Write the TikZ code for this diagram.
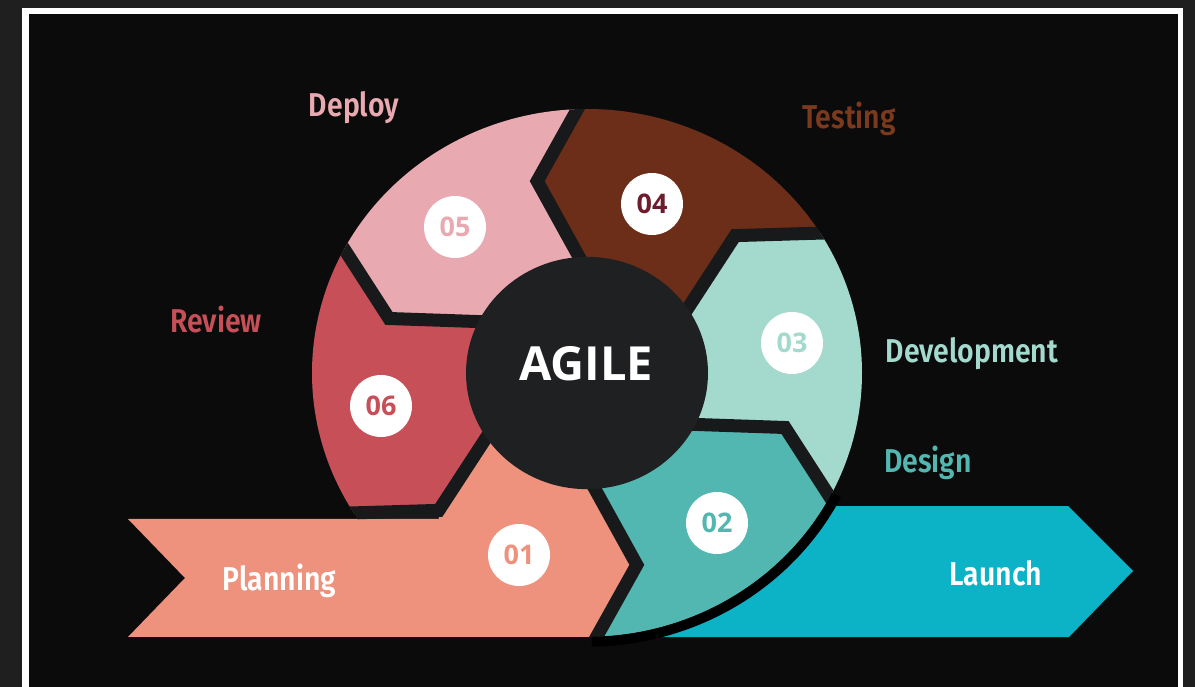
\documentclass[tikz,border=0pt]{standalone}
\usepackage{fontspec}
\setmainfont{Fira Sans}[FakeStretch=0.86,UprightFont=* SemiBold,BoldFont=* Bold]
\newfontfamily\hubfont{Open Sans}
\usetikzlibrary{calc}

\definecolor{bgouter}{HTML}{1F1F1F}
\definecolor{bginner}{HTML}{0B0B0B}
\definecolor{gapgray}{HTML}{18191A}
\definecolor{hubgray}{HTML}{1F2022}
\definecolor{planC}{HTML}{EE927D}
\definecolor{designC}{HTML}{53B7B1}
\definecolor{devC}{HTML}{A4DACE}
\definecolor{testC}{HTML}{6C2E18}
\definecolor{testLabel}{HTML}{7B3A1D}
\definecolor{numFour}{HTML}{6E1C2E}
\definecolor{deployC}{HTML}{E9A9B0}
\definecolor{reviewC}{HTML}{C64F58}
\definecolor{launchC}{HTML}{0CB2C5}

\tikzset{
  phaselabel/.style={anchor=base,font=\fontsize{33}{33}\selectfont},
  numdisc/.style={circle,fill=white,minimum size=62pt,inner sep=0pt,
    font=\hubfont\bfseries\fontsize{27}{27}\selectfont},
  gapline/.style={draw=gapgray,line width=13pt,line join=miter},
}

\begin{document}
\begin{tikzpicture}[x=1pt,y=-1pt]
  \useasboundingbox (0,0) rectangle (1195,687);
  % frame
  \fill[bgouter] (0,0) rectangle (1195,687);
  \fill[white] (22,8) rectangle (1183,687);
  \fill[bginner] (28.5,14.5) rectangle (1177.5,687);

  \coordinate (rib-tl) at (128,519);
  \coordinate (rib-bl) at (128,637);
  \coordinate (rib-notch) at (185,578);

  % launch arrow, its left end goes under the ring
  \fill[launchC] (700,506) -- (1068,506) -- (1133,571) -- (1069,637)
    -- (640,637) -- cycle;

  \begin{scope}[shift={(587,373)},yscale=-0.96]
    \foreach \k/\ang in {1/32,2/92,3/152,4/212,5/272,6/332}{
      \coordinate (b\k-in) at ({\ang+1.5}:120);
      \coordinate (b\k-bend) at ({\ang+12}:206);
      \coordinate (b\k-out) at (\ang:275);
    }
    \fill[gapgray] (0,0) circle (275);

    % ring pieces
    \fill[devC] (b6-out) arc[start angle=332,end angle=392,radius=275]
      -- (b1-bend) -- (b1-in) -- (0,0) -- (b6-in) -- (b6-bend) -- cycle;
    \fill[testC] (b1-out) arc[start angle=32,end angle=92,radius=275]
      -- (b2-bend) -- (b2-in) -- (0,0) -- (b1-in) -- (b1-bend) -- cycle;
    \fill[deployC] (b2-out) arc[start angle=92,end angle=152,radius=275]
      -- (b3-bend) -- (b3-in) -- (0,0) -- (b2-in) -- (b2-bend) -- cycle;
    \fill[reviewC] (b3-out) arc[start angle=152,end angle=212,radius=275]
      -- (b4-bend) -- (b4-in) -- (0,0) -- (b3-in) -- (b3-bend) -- cycle;
    \fill[designC] (b5-out) arc[start angle=272,end angle=332,radius=275]
      -- (b6-bend) -- (b6-in) -- (0,0) -- (b5-in) -- (b5-bend) -- cycle;
    \fill[planC] (rib-tl) -- (b4-bend |- rib-tl) -- (b4-bend) -- (b4-in)
      -- (0,0) -- (b5-in) -- (b5-bend) -- (b5-out) -- (b5-out |- rib-bl)
      -- (rib-bl) -- (rib-notch) -- cycle;

    \begin{scope}
      \clip (0,0) circle (275);
      \foreach \k in {1,...,6}
        \draw[gapline] ($(b\k-bend)!1.2!(b\k-in)$) -- (b\k-bend)
          -- ($(b\k-bend)!1.4!(b\k-out)$);
    \end{scope}

    % shadow between design and launch
    \draw[black,line width=10pt] (333:280) arc[start angle=333,end angle=271,radius=280];
    \fill[hubgray] (0,0) circle (121);
  \end{scope}

  \node[font=\hubfont\bfseries\fontsize{47}{47}\selectfont,text=white,anchor=base]
    (hub) at (586,381) {AGILE};

  \node[numdisc,text=planC] (n01) at (519,555) {01};
  \node[numdisc,text=designC] (n02) at (717,523) {02};
  \node[numdisc,text=devC] (n03) at (792,343) {03};
  \node[numdisc,text=numFour] (n04) at (652,204) {04};
  \node[numdisc,text=deployC] (n05) at (455,227) {05};
  \node[numdisc,text=reviewC] (n06) at (381,406) {06};

  \node[phaselabel,text=deployC] (deploy) at (354,117) {Deploy};
  \node[phaselabel,text=testLabel] (testing) at (849,129) {Testing};
  \node[phaselabel,text=devC] (develop) at (972,362) {Development};
  \node[phaselabel,text=designC] (design) at (928,472) {Design};
  \node[phaselabel,text=reviewC] (review) at (216,332) {Review};
  \node[phaselabel,text=white] (planning) at (279.5,590) {Planning};
  \node[phaselabel,text=white] (launch) at (996,585) {Launch};
\end{tikzpicture}
\end{document}
